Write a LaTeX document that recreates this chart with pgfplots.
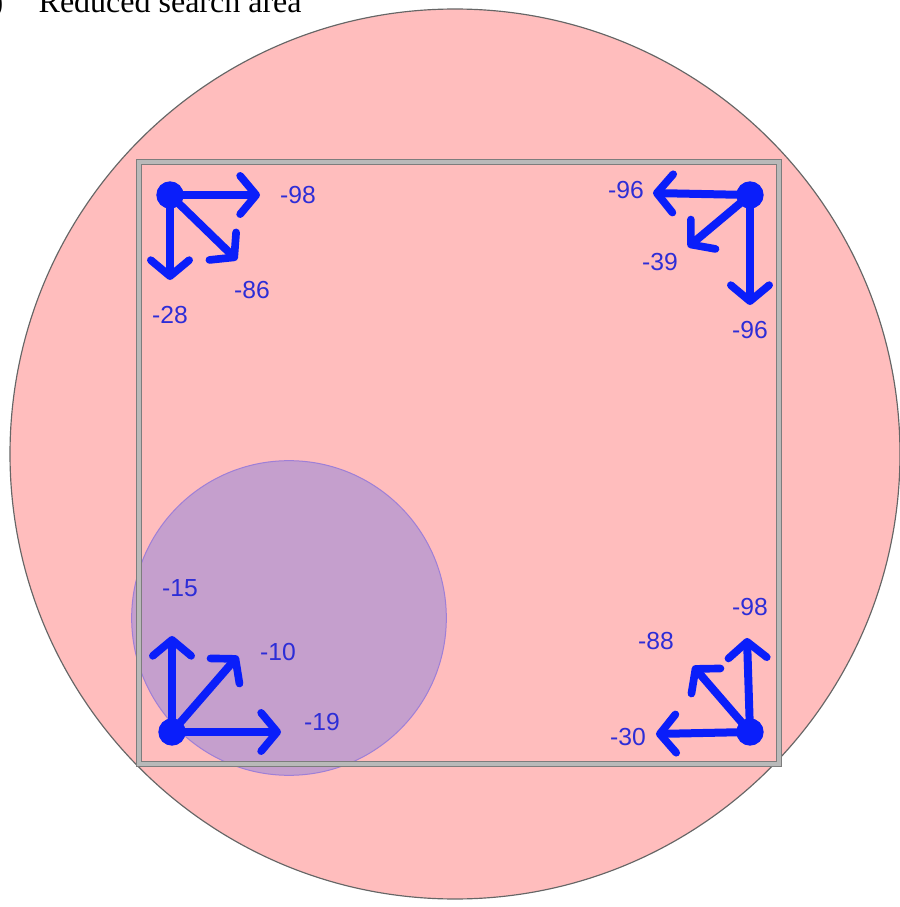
\documentclass[border=0pt]{standalone}
\usepackage{pgfplots}
\pgfplotsset{compat=1.18}
\usepackage{fontspec}
\setmainfont{Liberation Serif}
\newfontfamily\labfont{Liberation Sans}
\usetikzlibrary{arrows.meta}
\definecolor{pinkfill}{RGB}{255,189,189}
\definecolor{purplefill}{RGB}{197,159,205}
\definecolor{arrowblue}{RGB}{10,30,250}
\definecolor{labblue}{RGB}{45,45,215}
\definecolor{sqgray}{RGB}{125,125,125}
\definecolor{sqlight}{RGB}{185,185,185}
\tikzset{
  arr/.style={arrowblue, line width=2.4pt, line cap=round,
    -{Straight Barb[length=4.8pt, width=11.5pt, line width=2.3pt, round]}},
  lab/.style={labblue, font=\labfont\fontsize{7.4}{8}\selectfont},
}
\begin{document}
\begin{tikzpicture}
\begin{axis}[
  set layers=standard,
  x=0.3pt, y=0.3pt, y dir=reverse,
  xmin=0, xmax=899, ymin=0, ymax=907,
  hide axis, clip=false, scale only axis,
]
% big circle
\addplot[only marks, mark=*, mark size=133.5pt, on layer=axis background, mark layer=axis background,
  mark options={fill=pinkfill, draw=gray!80!black, line width=0.35pt}]
  coordinates {(455,454)};
% reduced search area
\addplot[only marks, mark=*, mark size=47.2pt, on layer=axis grid, mark layer=axis grid,
  mark options={fill=purplefill, draw=purplefill!80!blue, line width=0.3pt}]
  coordinates {(289,618)};
% double-line square
\addplot[on layer=axis ticks, draw=sqgray, line width=0.5pt, double=sqlight, double distance=1.0pt]
  coordinates {(139,162) (779,162) (779,764) (139,764)} -- cycle;
% arrows top-left
\addplot[arr] coordinates {(170,195) (260,195)};
\addplot[arr] coordinates {(170,195) (170,280)};
\addplot[arr] coordinates {(170,195) (237,260)};
% top-right
\addplot[arr] coordinates {(750,195) (653,193)};
\addplot[arr] coordinates {(750,195) (688,247)};
\addplot[arr] coordinates {(750,195) (750,305)};
% bottom-left
\addplot[arr] coordinates {(172,732) (172,636)};
\addplot[arr] coordinates {(172,732) (238,656)};
\addplot[arr] coordinates {(172,732) (281,732)};
% bottom-right
\addplot[arr] coordinates {(750,732) (747,638)};
\addplot[arr] coordinates {(750,732) (693,666)};
\addplot[arr] coordinates {(750,732) (656,734)};
% dots
\addplot[only marks, mark=*, mark size=3.9pt, arrowblue]
  coordinates {(170,195) (750,195) (172,732) (750,732)};
% labels
\node[lab] at (axis cs:298,195) {-98};
\node[lab] at (axis cs:170,315) {-28};
\node[lab] at (axis cs:252,290) {-86};
\node[lab] at (axis cs:626,190) {-96};
\node[lab] at (axis cs:660,262) {-39};
\node[lab] at (axis cs:750,330) {-96};
\node[lab] at (axis cs:180,588) {-15};
\node[lab] at (axis cs:278,652) {-10};
\node[lab] at (axis cs:322,722) {-19};
\node[lab] at (axis cs:750,607) {-98};
\node[lab] at (axis cs:656,641) {-88};
\node[lab] at (axis cs:628,737) {-30};
% title (partly cut off at the top, as in the reference)
\node[anchor=base east, inner sep=0pt, font=\fontsize{9.6}{11}\selectfont] at (axis cs:4,12) {b)};
\node[anchor=base west, inner sep=0pt, font=\fontsize{9.6}{11}\selectfont] at (axis cs:38,12) {Reduced search area};
\coordinate (bbA) at (axis cs:0,907);
\coordinate (bbB) at (axis cs:899,0);
\end{axis}
\pgfresetboundingbox
\useasboundingbox (bbA) rectangle (bbB);
\end{tikzpicture}
\end{document}
